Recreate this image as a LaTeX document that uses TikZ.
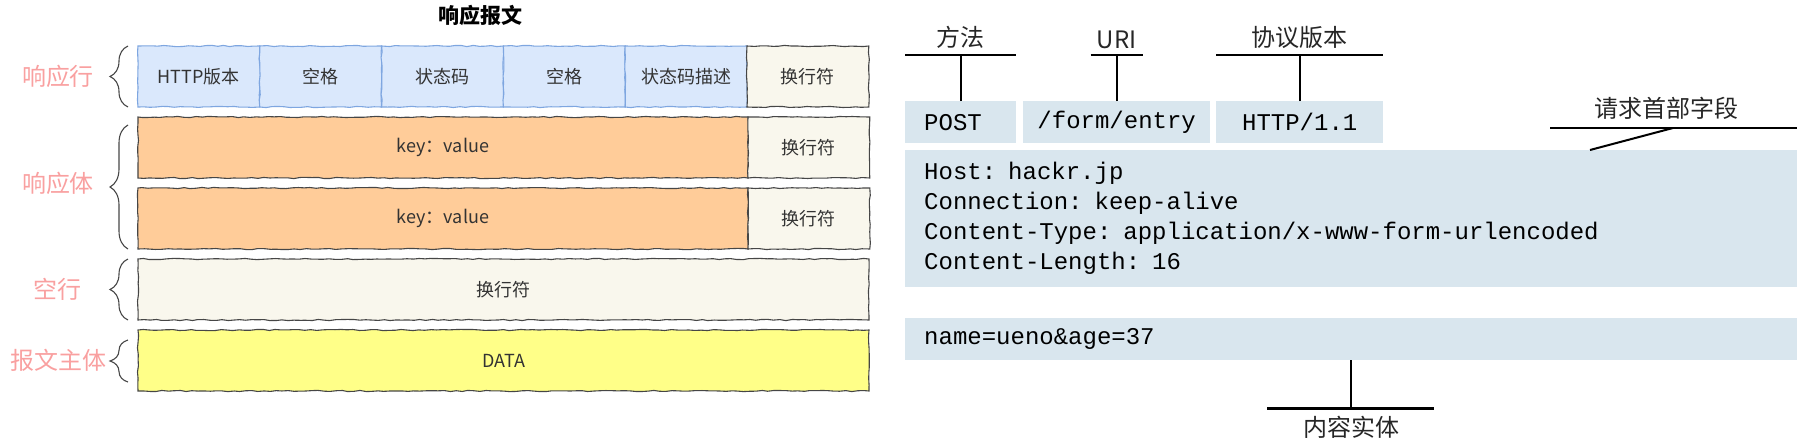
\documentclass[tikz,border=0pt]{standalone}
\usepackage{fontspec}
\setmainfont{Noto Sans CJK SC}
\setmonofont{Liberation Mono}
\usetikzlibrary{positioning,calc,decorations.pathreplacing,decorations.pathmorphing}
\definecolor{labelpink}{RGB}{249,160,160}
\definecolor{lineblue}{RGB}{218,232,252}
\definecolor{lineedge}{RGB}{126,166,224}
\definecolor{headorange}{RGB}{255,204,153}
\definecolor{crlfbeige}{RGB}{249,247,237}
\definecolor{datayellow}{RGB}{255,255,136}
\definecolor{sketchedge}{RGB}{70,70,70}
\definecolor{reqblue}{RGB}{217,230,238}
\newcommand{\fsz}[2]{\fontsize{#1}{#2}\selectfont}

\begin{document}
\begin{tikzpicture}[x=1pt, y=-1pt,
    sketch/.style={draw=sketchedge, line width=1.1pt, decorate,
      decoration={random steps, segment length=6pt, amplitude=0.6pt}},
    cell/.style={sketch, rectangle, anchor=north west, inner sep=0pt, outer sep=0pt,
      minimum height=61pt, font=\fsz{18}{22}, text=black!80},
    grp/.style={draw=sketchedge, line width=1.1pt, decorate,
      decoration={brace, amplitude=18pt}},
    sidelabel/.style={font=\fsz{24}{28}, text=labelpink},
    reqbox/.style={rectangle, fill=reqblue, anchor=north west, inner sep=0pt,
      font=\ttfamily\fsz{24}{30}, text=black},
    tag/.style={font=\fsz{24}{28}, inner sep=0pt, text=black!85},
    bar/.style={line width=2.6pt},
    stem/.style={line width=2pt}]
  \pgfmathsetseed{7}
  \useasboundingbox (0,0) rectangle (1805,447);

  % --- Response message (left) ---
  \def\cw{121.8}
  \node[font=\fsz{21}{24}\bfseries] (title) at (480,15) {响应报文};
  \foreach \txt [count=\i] in {HTTP版本,空格,状态码,空格,状态码描述}
    \node[cell, fill=lineblue, draw=lineedge, minimum width=\cw pt] (st\i)
      at ({138+(\i-1)*\cw},46) {\txt};
  \node[cell, fill=crlfbeige, minimum width=\cw pt, right=0pt of st5] (nl1) {换行符};

  \node[cell, fill=headorange, minimum width=610pt] (kv1) at (138,117) {key：value};
  \node[cell, fill=crlfbeige, minimum width=\cw pt, right=0pt of kv1] (nl2) {换行符};
  \node[cell, fill=headorange, minimum width=610pt] (kv2) at (138,188) {key：value};
  \node[cell, fill=crlfbeige, minimum width=\cw pt, right=0pt of kv2] (nl3) {换行符};

  \node[cell, fill=crlfbeige, minimum width=731pt] (blank) at (138,259) {换行符};
  \node[cell, fill=datayellow, minimum width=731pt] (data) at (138,330) {DATA};

  % braces and labels
  \coordinate (lblx) at (58,0);
  \coordinate (bodymid) at ($(kv1.south west)!0.5!(kv2.north west)$);
  \draw[grp] ([xshift=-10pt]st1.south west) -- ([xshift=-10pt]st1.north west);
  \draw[grp] ([xshift=-10pt]kv2.south west) -- ([xshift=-10pt,yshift=-8pt]kv1.north west);
  \draw[grp] ([xshift=-10pt]blank.south west) -- ([xshift=-10pt]blank.north west);
  \draw[grp] ([xshift=-10pt,yshift=9pt]data.south west) -- ([xshift=-10pt,yshift=-10pt]data.north west);
  \node[sidelabel] (lblline)  at (lblx |- st1.west)   {响应行};
  \node[sidelabel] (lblhead)  at (lblx |- bodymid)    {响应体};
  \node[sidelabel] (lblblank) at (lblx |- blank.west) {空行};
  \node[sidelabel] (lblbody)  at (lblx |- data.west)  {报文主体};

  % --- Request message (right) ---
  \node[reqbox, minimum width=111pt, minimum height=42pt, text width=73pt, align=left]
    (method) at (905,101) {POST};
  \node[reqbox, minimum width=187pt, minimum height=42pt] (uri)    at (1023,101) {/form/entry};
  \node[reqbox, minimum width=167pt, minimum height=42pt] (proto)  at (1216,101) {HTTP/1.1};
  \node[reqbox, minimum width=892pt, minimum height=137pt, text width=854pt, align=left]
    (headers) at (905,150)
    {Host: hackr.jp\\Connection: keep-alive\\Content-Type: application/x-www-form-urlencoded\\Content-Length: 16};
  \node[reqbox, minimum width=892pt, minimum height=42pt, text width=854pt, align=left]
    (entity) at (905,318) {name=ueno\&age=37};

  % pointers
  \coordinate[above=46pt of method.north] (mbar);
  \draw[stem] (method.north) -- (mbar);
  \draw[bar] (method.west |- mbar) -- (method.east |- mbar);
  \node[tag, above=6pt of mbar] (lblmethod) {方法};

  \coordinate[above=46pt of uri.north] (ubar);
  \draw[stem] (uri.north) -- (ubar);
  \draw[bar] ([xshift=-26pt]ubar) -- ([xshift=26pt]ubar);
  \node[tag, above=6pt of ubar] (lbluri) {URI};

  \coordinate[above=46pt of proto.north] (pbar);
  \draw[stem] (proto.north) -- (pbar);
  \draw[bar] (proto.west |- pbar) -- (proto.east |- pbar);
  \node[tag, above=6pt of pbar] (lblproto) {协议版本};

  \coordinate (hbar) at (1673,128);
  \coordinate (hbarl) at (1550,128);
  \draw[bar] (hbarl) -- (hbarl -| headers.east);
  \draw[stem] (hbar) -- ([xshift=685pt]headers.north west);
  \node[tag, above=8pt of hbar, xshift=-7pt] (lblheaders) {请求首部字段};

  \coordinate[below=48pt of entity.south] (ebar);
  \draw[stem] (entity.south) -- (ebar);
  \draw[bar] ([xshift=-84pt]ebar) -- ([xshift=83pt]ebar);
  \node[tag, below=8pt of ebar] (lblentity) {内容实体};
\end{tikzpicture}
\end{document}
